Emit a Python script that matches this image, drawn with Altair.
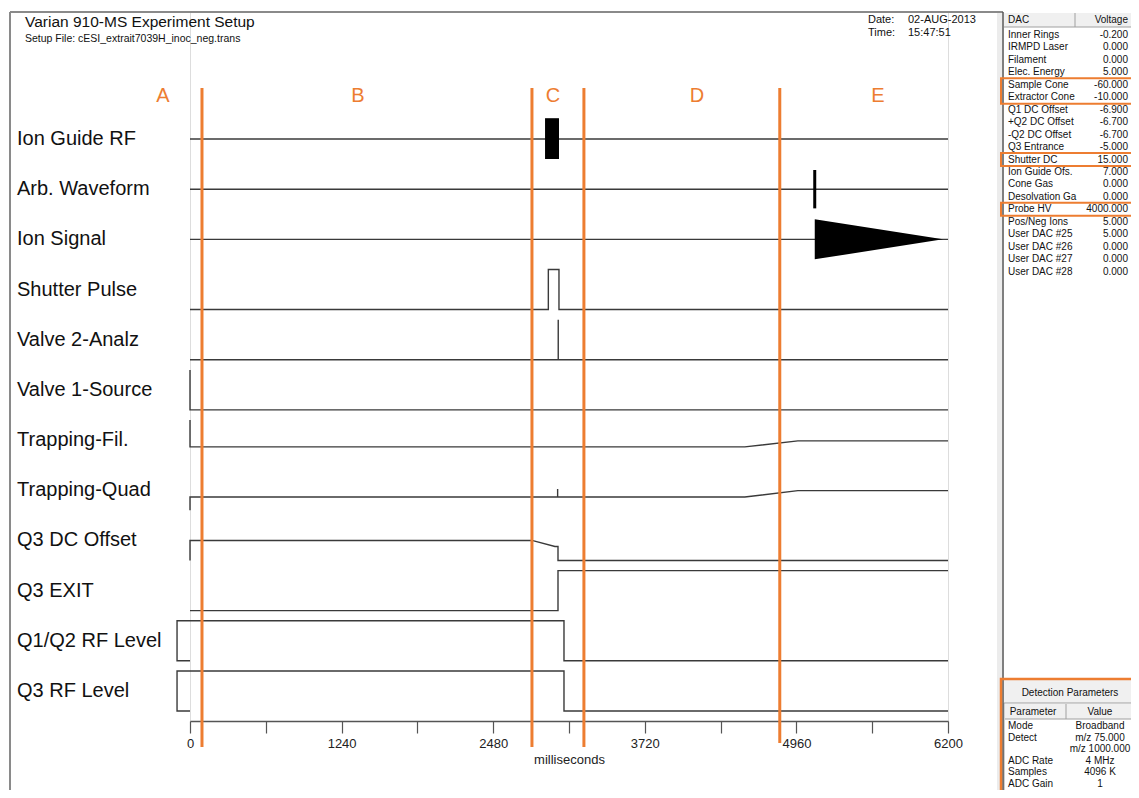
import altair as alt
import pandas as pd

FONT = "Liberation Sans"
ORANGE = "#ED7D31"
LINE = "#3a3a3a"

# ---------------- data ----------------
channels = ["Ion Guide RF", "Arb. Waveform", "Ion Signal", "Shutter Pulse",
            "Valve 2-Analz", "Valve 1-Source", "Trapping-Fil.", "Trapping-Quad",
            "Q3 DC Offset", "Q3 EXIT", "Q1/Q2 RF Level", "Q3 RF Level"]

# time (ms) of each vertex of each channel trace
trace_times = [
    [0, 6200],
    [0, 6200],
    [0, 6200],
    [0, 2931, 2931, 3018, 3018, 6200],
    [0, 3012, 3012, 3012, 6200],
    [0, 0, 6200],
    [0, 0, 4538, 4972, 6200],
    [0, 0, 3007, 3007, 3007, 4538, 4972, 6200],
    [0, 0, 2797, 2985, 3010, 3010, 6200],
    [0, 3010, 3010, 6200],
    [0, -106, -106, 3059, 3059, 6200],
    [0, -106, -106, 3059, 3059, 6200],
]
# relative level (0 = low, 1 = high) of each vertex
trace_levels = [
    [0.5, 0.5],
    [0.5, 0.5],
    [0.5, 0.5],
    [0, 0, 1, 1, 0, 0],
    [0, 0, 1, 0, 0],
    [1, 0, 0],
    [1, 0.33, 0.33, 0.48, 0.48],
    [0, 0.33, 0.33, 0.53, 0.33, 0.33, 0.49, 0.49],
    [0, 0.5, 0.5, 0.35, 0.35, 0, 0],
    [0, 0, 1, 1],
    [0, 0, 1, 1, 0, 0],
    [0, 0, 1, 1, 0, 0],
]

rf_block_times = [2904, 3018]        # Ion Guide RF burst
rf_block_levels = [0, 1.02]
arb_time = [5110]                    # Arb. Waveform burst
arb_levels = [0.02, 0.98]
ion_times = [5110, 6159]             # Ion Signal (decaying transient)
ion_top = [1.0, 0.5]
ion_bottom = [0.0, 0.5]

section_names = ["A", "B", "C", "D", "E"]
section_label_times = [-221, 1374, 2969, 4147, 5627]
section_bounds = [98, 2797, 3222, 4824]

tick_values = list(range(0, 6201, 620))

dac_names = ["Inner Rings", "IRMPD Laser", "Filament", "Elec. Energy", "Sample Cone",
             "Extractor Cone", "Q1 DC Offset", "+Q2 DC Offset", "-Q2 DC Offset",
             "Q3 Entrance", "Shutter DC", "Ion Guide Ofs.", "Cone Gas", "Desolvation Ga",
             "Probe HV", "Pos/Neg Ions", "User DAC #25", "User DAC #26", "User DAC #27",
             "User DAC #28"]
dac_values = ["-0.200", "0.000", "0.000", "5.000", "-60.000", "-10.000", "-6.900",
              "-6.700", "-6.700", "-5.000", "15.000", "7.000", "0.000", "0.000",
              "4000.000", "5.000", "5.000", "0.000", "0.000", "0.000"]
dac_highlight_groups = [[4, 5], [10], [14]]

det_params = ["Mode", "Detect", "", "ADC Rate", "Samples", "ADC Gain"]
det_values = ["Broadband", "m/z 75.000", "m/z 1000.000", "4 MHz", "4096 K", "1"]

# ---------------- geometry helpers (screen layout -> data units) ----------------
PX_PER_MS = 758 / 6200
ROW_PX = 50.18
AMP = 40 / ROW_PX


def tx(px):
    return (px - 190) / PX_PER_MS


def ry(py):
    return (py - 139) / ROW_PX


def lvl(row, v):
    return row + (0.5 - v) * AMP


xscale = alt.Scale(domain=[0, 6200], nice=False, zero=False)
yscale = alt.Scale(domain=[ry(12), ry(721)], nice=False, zero=False, reverse=True)
xaxis = alt.Axis(values=tick_values, format="d",
                 labelExpr="datum.value % 1240 == 0 ? datum.label : ''",
                 grid=False, domainColor="#555", domainWidth=1.5, tickColor="#555",
                 tickWidth=1.2, tickSize=12, labelFontSize=13, labelColor="#222",
                 titleFontSize=13, titleColor="#222", titleFontWeight="normal",
                 labelPadding=4, titlePadding=3, labelFlush=False, labelOverlap=False,
                 labelFont=FONT, titleFont=FONT)


def X(f):
    return alt.X(f, type="quantitative", scale=xscale, axis=xaxis, title="milliseconds")


def Y(f):
    return alt.Y(f, type="quantitative", scale=yscale, axis=None)


# ---------------- signal traces ----------------
rows = []
for i, (ts, vs) in enumerate(zip(trace_times, trace_levels)):
    for k, (t, v) in enumerate(zip(ts, vs)):
        rows.append({"ch": channels[i], "k": k, "t": t, "y": lvl(i, v)})
df_tr = pd.DataFrame(rows)
traces = alt.Chart(df_tr).mark_line(color=LINE, strokeWidth=1.4).encode(
    x=X("t"), y=Y("y"), detail="ch:N", order="k:Q")

df_rf = pd.DataFrame({"t": [rf_block_times[0]], "t2": [rf_block_times[1]],
                      "y": [lvl(0, rf_block_levels[1])], "y2": [lvl(0, rf_block_levels[0])]})
rf_block = alt.Chart(df_rf).mark_rect(color="black").encode(
    x=X("t"), x2="t2", y=Y("y"), y2="y2")

df_arb = pd.DataFrame({"t": arb_time, "y": [lvl(1, arb_levels[1])], "y2": [lvl(1, arb_levels[0])]})
arb = alt.Chart(df_arb).mark_rule(color="black", strokeWidth=3).encode(
    x=X("t"), y=Y("y"), y2="y2")

df_ion = pd.DataFrame({"t": ion_times, "y": [lvl(2, v) for v in ion_top],
                       "y2": [lvl(2, v) for v in ion_bottom]})
ion = alt.Chart(df_ion).mark_area(color="black", opacity=1).encode(
    x=X("t"), y=Y("y"), y2="y2")

# ---------------- section markers ----------------
df_sec = pd.DataFrame({"t": section_bounds, "y": [ry(88)] * 4,
                       "y2": [ry(747), ry(747), ry(747), ry(743)]})
sec_lines = alt.Chart(df_sec).mark_rule(color=ORANGE, strokeWidth=3).encode(
    x=X("t"), y=Y("y"), y2="y2")

# ---------------- chrome: frames & panels ----------------
RIGHT = 1135
df_bg = pd.DataFrame([
    {"t": tx(997), "t2": tx(1002), "y": ry(12), "y2": ry(800), "f": "#ececec"},
    {"t": tx(1004), "t2": tx(RIGHT), "y": ry(13), "y2": ry(27), "f": "#f0f0f0"},
    {"t": tx(1001), "t2": tx(RIGHT), "y": ry(679), "y2": ry(805), "f": "#f0f0f0"},
])
bg = alt.Chart(df_bg).mark_rect(strokeWidth=0).encode(
    x=X("t"), x2="t2", y=Y("y"), y2="y2", fill=alt.Fill("f:N", scale=None))

df_tab = pd.DataFrame([{"t": tx(1004), "t2": tx(RIGHT), "y": ry(703), "y2": ry(805)}])
tab = alt.Chart(df_tab).mark_rect(fill="white", stroke="#a0a0a0", strokeWidth=1).encode(
    x=X("t"), x2="t2", y=Y("y"), y2="y2")
df_tabh = pd.DataFrame([{"t": tx(1005), "t2": tx(RIGHT), "y": ry(704), "y2": ry(719)}])
tabh = alt.Chart(df_tabh).mark_rect(fill="#f0f0f0").encode(
    x=X("t"), x2="t2", y=Y("y"), y2="y2")

df_det_box = pd.DataFrame([{"t": tx(1001), "t2": tx(RIGHT), "y": ry(679), "y2": ry(805)}])
det_box = alt.Chart(df_det_box).mark_rect(fillOpacity=0, stroke=ORANGE, strokeWidth=2.5).encode(
    x=X("t"), x2="t2", y=Y("y"), y2="y2")

hl = []
for g in dac_highlight_groups:
    hl.append({"t": tx(1001), "t2": tx(RIGHT),
               "y": ry(35 + 12.45 * g[0] - 6.5), "y2": ry(35 + 12.45 * g[-1] + 6.5)})
hl_box = alt.Chart(pd.DataFrame(hl)).mark_rect(fillOpacity=0, stroke=ORANGE, strokeWidth=2).encode(
    x=X("t"), x2="t2", y=Y("y"), y2="y2")

df_h = pd.DataFrame([
    {"t": tx(10), "t2": tx(1003), "y": ry(12), "c": "#8a8a8a", "w": 2},
    {"t": tx(1004), "t2": tx(RIGHT), "y": ry(27), "c": "#a0a0a0", "w": 1},
    {"t": tx(1005), "t2": tx(RIGHT), "y": ry(719), "c": "#a0a0a0", "w": 1},
])
hrules = alt.Chart(df_h).mark_rule().encode(
    x=X("t"), x2="t2", y=Y("y"), color=alt.Color("c:N", scale=None),
    strokeWidth=alt.StrokeWidth("w:Q", scale=None))
df_v = pd.DataFrame([
    {"t": tx(10), "y": ry(12), "y2": ry(800), "c": "#8a8a8a", "w": 2},
    {"t": tx(1003), "y": ry(12), "y2": ry(800), "c": "#555555", "w": 1.5},
    {"t": tx(1075), "y": ry(13), "y2": ry(27), "c": "#a0a0a0", "w": 1},
    {"t": tx(1066), "y": ry(704), "y2": ry(719), "c": "#a0a0a0", "w": 1},
])
vrules = alt.Chart(df_v).mark_rule().encode(
    x=X("t"), y=Y("y"), y2="y2", color=alt.Color("c:N", scale=None),
    strokeWidth=alt.StrokeWidth("w:Q", scale=None))

# ---------------- texts ----------------
left, center, right = [], [], []


def add(lst, label, px, py, size, color="#111"):
    lst.append({"label": label, "t": tx(px), "y": ry(py), "s": size, "c": color})


add(left, "Varian 910-MS Experiment Setup", 25, 22, 15.5)
add(left, "Setup File: cESI_extrait7039H_inoc_neg.trans", 25, 39, 10.5)
add(left, "Date:", 868, 20, 11)
add(left, "02-AUG-2013", 908, 20, 11)
add(left, "Time:", 868, 33, 11)
add(left, "15:47:51", 908, 33, 11)
for i, name in enumerate(channels):
    left.append({"label": name, "t": tx(17), "y": float(i), "s": 20, "c": "#111"})
for name, t in zip(section_names, section_label_times):
    center.append({"label": name, "t": t, "y": ry(96), "s": 20, "c": ORANGE})
add(left, "DAC", 1008, 20, 10)
add(right, "Voltage", 1128, 20, 10)
for i, (n, v) in enumerate(zip(dac_names, dac_values)):
    add(left, n, 1008, 35 + 12.45 * i, 10)
    add(right, v, 1128, 35 + 12.45 * i, 10)
add(center, "Detection Parameters", 1070, 693, 10)
add(center, "Parameter", 1033, 712, 10)
add(center, "Value", 1100, 712, 10)
for i, (p, v) in enumerate(zip(det_params, det_values)):
    add(left, p, 1008, 726 + 11.6 * i, 10)
    add(center, v, 1100, 726 + 11.6 * i, 10)


def text_layer(lst, align):
    return alt.Chart(pd.DataFrame(lst)).mark_text(align=align, baseline="middle", font=FONT).encode(
        x=X("t"), y=Y("y"), text="label:N",
        size=alt.Size("s:Q", scale=None), color=alt.Color("c:N", scale=None))


layers = [bg, tab, tabh, hrules, vrules, hl_box, det_box,
          text_layer(left, "left"), text_layer(center, "center"), text_layer(right, "right"),
          traces, rf_block, arb, ion, sec_lines]

chart = alt.layer(*layers).properties(
    width=758, height=709,
    padding={"left": 182, "top": 4, "right": 183, "bottom": 69},
    autosize=alt.AutoSizeParams(type="none"),
    background="white",
).configure_view(stroke=None).configure(font=FONT)

chart.save("out.html", embed_options={"renderer": "svg", "actions": False})
